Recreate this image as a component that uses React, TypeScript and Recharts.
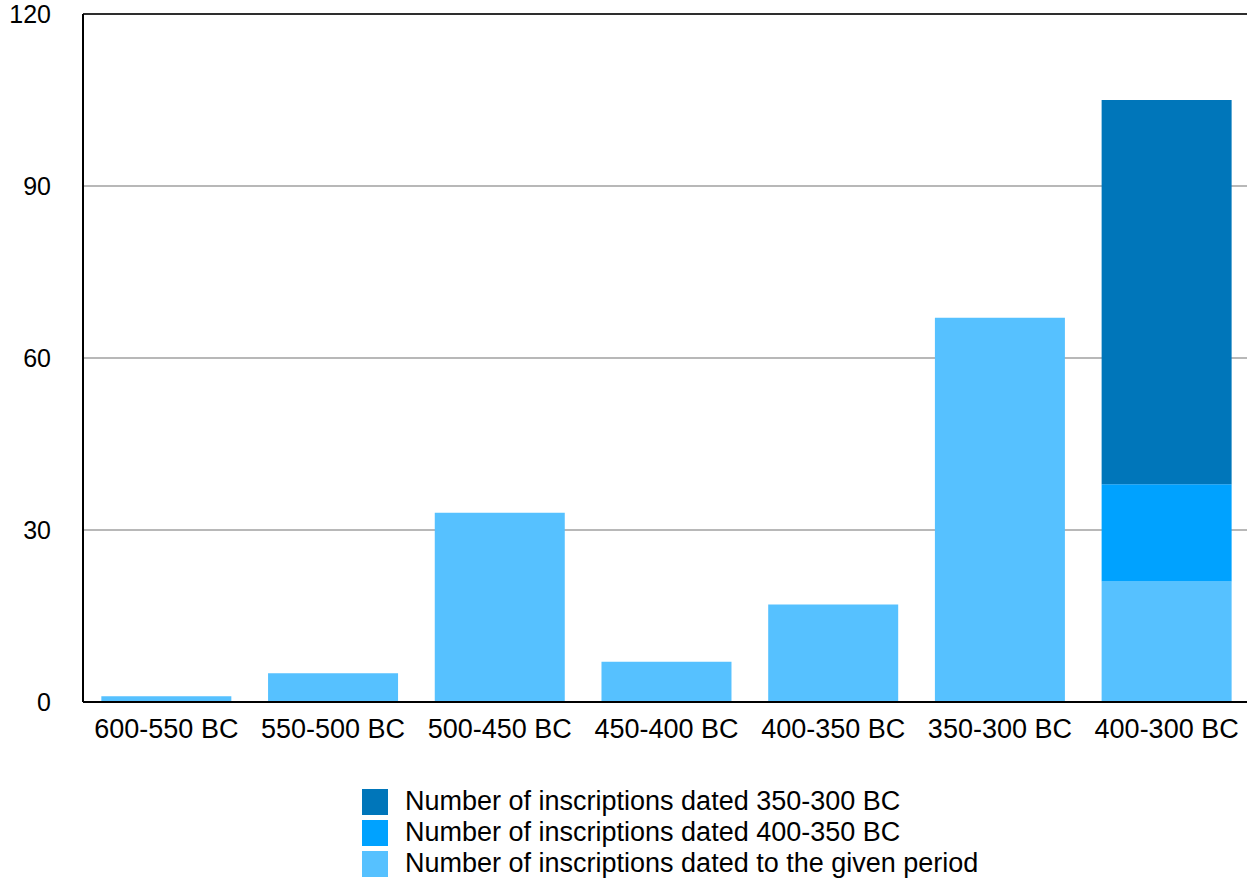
import React from 'react';
import { BarChart, Bar, CartesianGrid, XAxis, YAxis, Legend, ReferenceLine } from 'recharts';

const periods = ['600-550 BC', '550-500 BC', '500-450 BC', '450-400 BC', '400-350 BC', '350-300 BC', '400-300 BC'];
const givenPeriod = [1, 5, 33, 7, 17, 67, 21];
const dated400to350 = [0, 0, 0, 0, 0, 0, 17];
const dated350to300 = [0, 0, 0, 0, 0, 0, 67];
const yTicks = [0, 30, 60, 90, 120];

const series = [
  { key: 'late', name: 'Number of inscriptions dated 350-300 BC', color: '#0076BA' },
  { key: 'early', name: 'Number of inscriptions dated 400-350 BC', color: '#00A2FF' },
  { key: 'given', name: 'Number of inscriptions dated to the given period', color: '#56C1FF' },
];

const data = periods.map((period, i) => ({
  period,
  given: givenPeriod[i],
  early: dated400to350[i],
  late: dated350to300[i],
}));

const FONT = '"Liberation Sans", Arial, Helvetica, sans-serif';

const LegendBox = () => (
  <div style={{ fontFamily: FONT, fontSize: 27, color: '#000', lineHeight: '31px' }}>
    {series.map((s) => (
      <div key={s.key} style={{ display: 'flex', alignItems: 'center', height: 31 }}>
        <span style={{ width: 26, height: 26, background: s.color, marginRight: 17, display: 'inline-block' }} />
        <span>{s.name}</span>
      </div>
    ))}
  </div>
);

export default function App() {
  return (
    <div style={{ position: 'absolute', left: 0, top: 0, width: 1247, height: 881, overflow: 'hidden', background: '#fff' }}>
      <BarChart
        width={1250}
        height={881}
        data={data}
        margin={{ top: 14, right: 0, bottom: 0, left: 0 }}
        barCategoryGap="11%"
      >
        <CartesianGrid vertical={false} stroke="#b8b8b8" strokeWidth={2} />
        <ReferenceLine y={120} stroke="#000" strokeWidth={1.5} />
        <XAxis
          dataKey="period"
          height={179}
          tickLine={false}
          tickSize={0}
          tickMargin={17}
          axisLine={{ stroke: '#000', strokeWidth: 2 }}
          tick={{ fill: '#000', fontSize: 27, fontFamily: FONT }}
          interval={0}
        />
        <YAxis
          width={83}
          domain={[0, 120]}
          ticks={yTicks}
          tickLine={false}
          tickSize={0}
          tickMargin={32}
          axisLine={{ stroke: '#000', strokeWidth: 2 }}
          tick={{ fill: '#000', fontSize: 25, fontFamily: FONT }}
        />
        <Legend
          layout="horizontal"
          verticalAlign="middle"
          align="center"
          wrapperStyle={{ top: 786, left: 362, width: 'auto' }}
          content={() => <LegendBox />}
        />
        <Bar dataKey="given" stackId="a" fill="#56C1FF" isAnimationActive={false} />
        <Bar dataKey="early" stackId="a" fill="#00A2FF" isAnimationActive={false} />
        <Bar dataKey="late" stackId="a" fill="#0076BA" isAnimationActive={false} />
      </BarChart>
    </div>
  );
}
